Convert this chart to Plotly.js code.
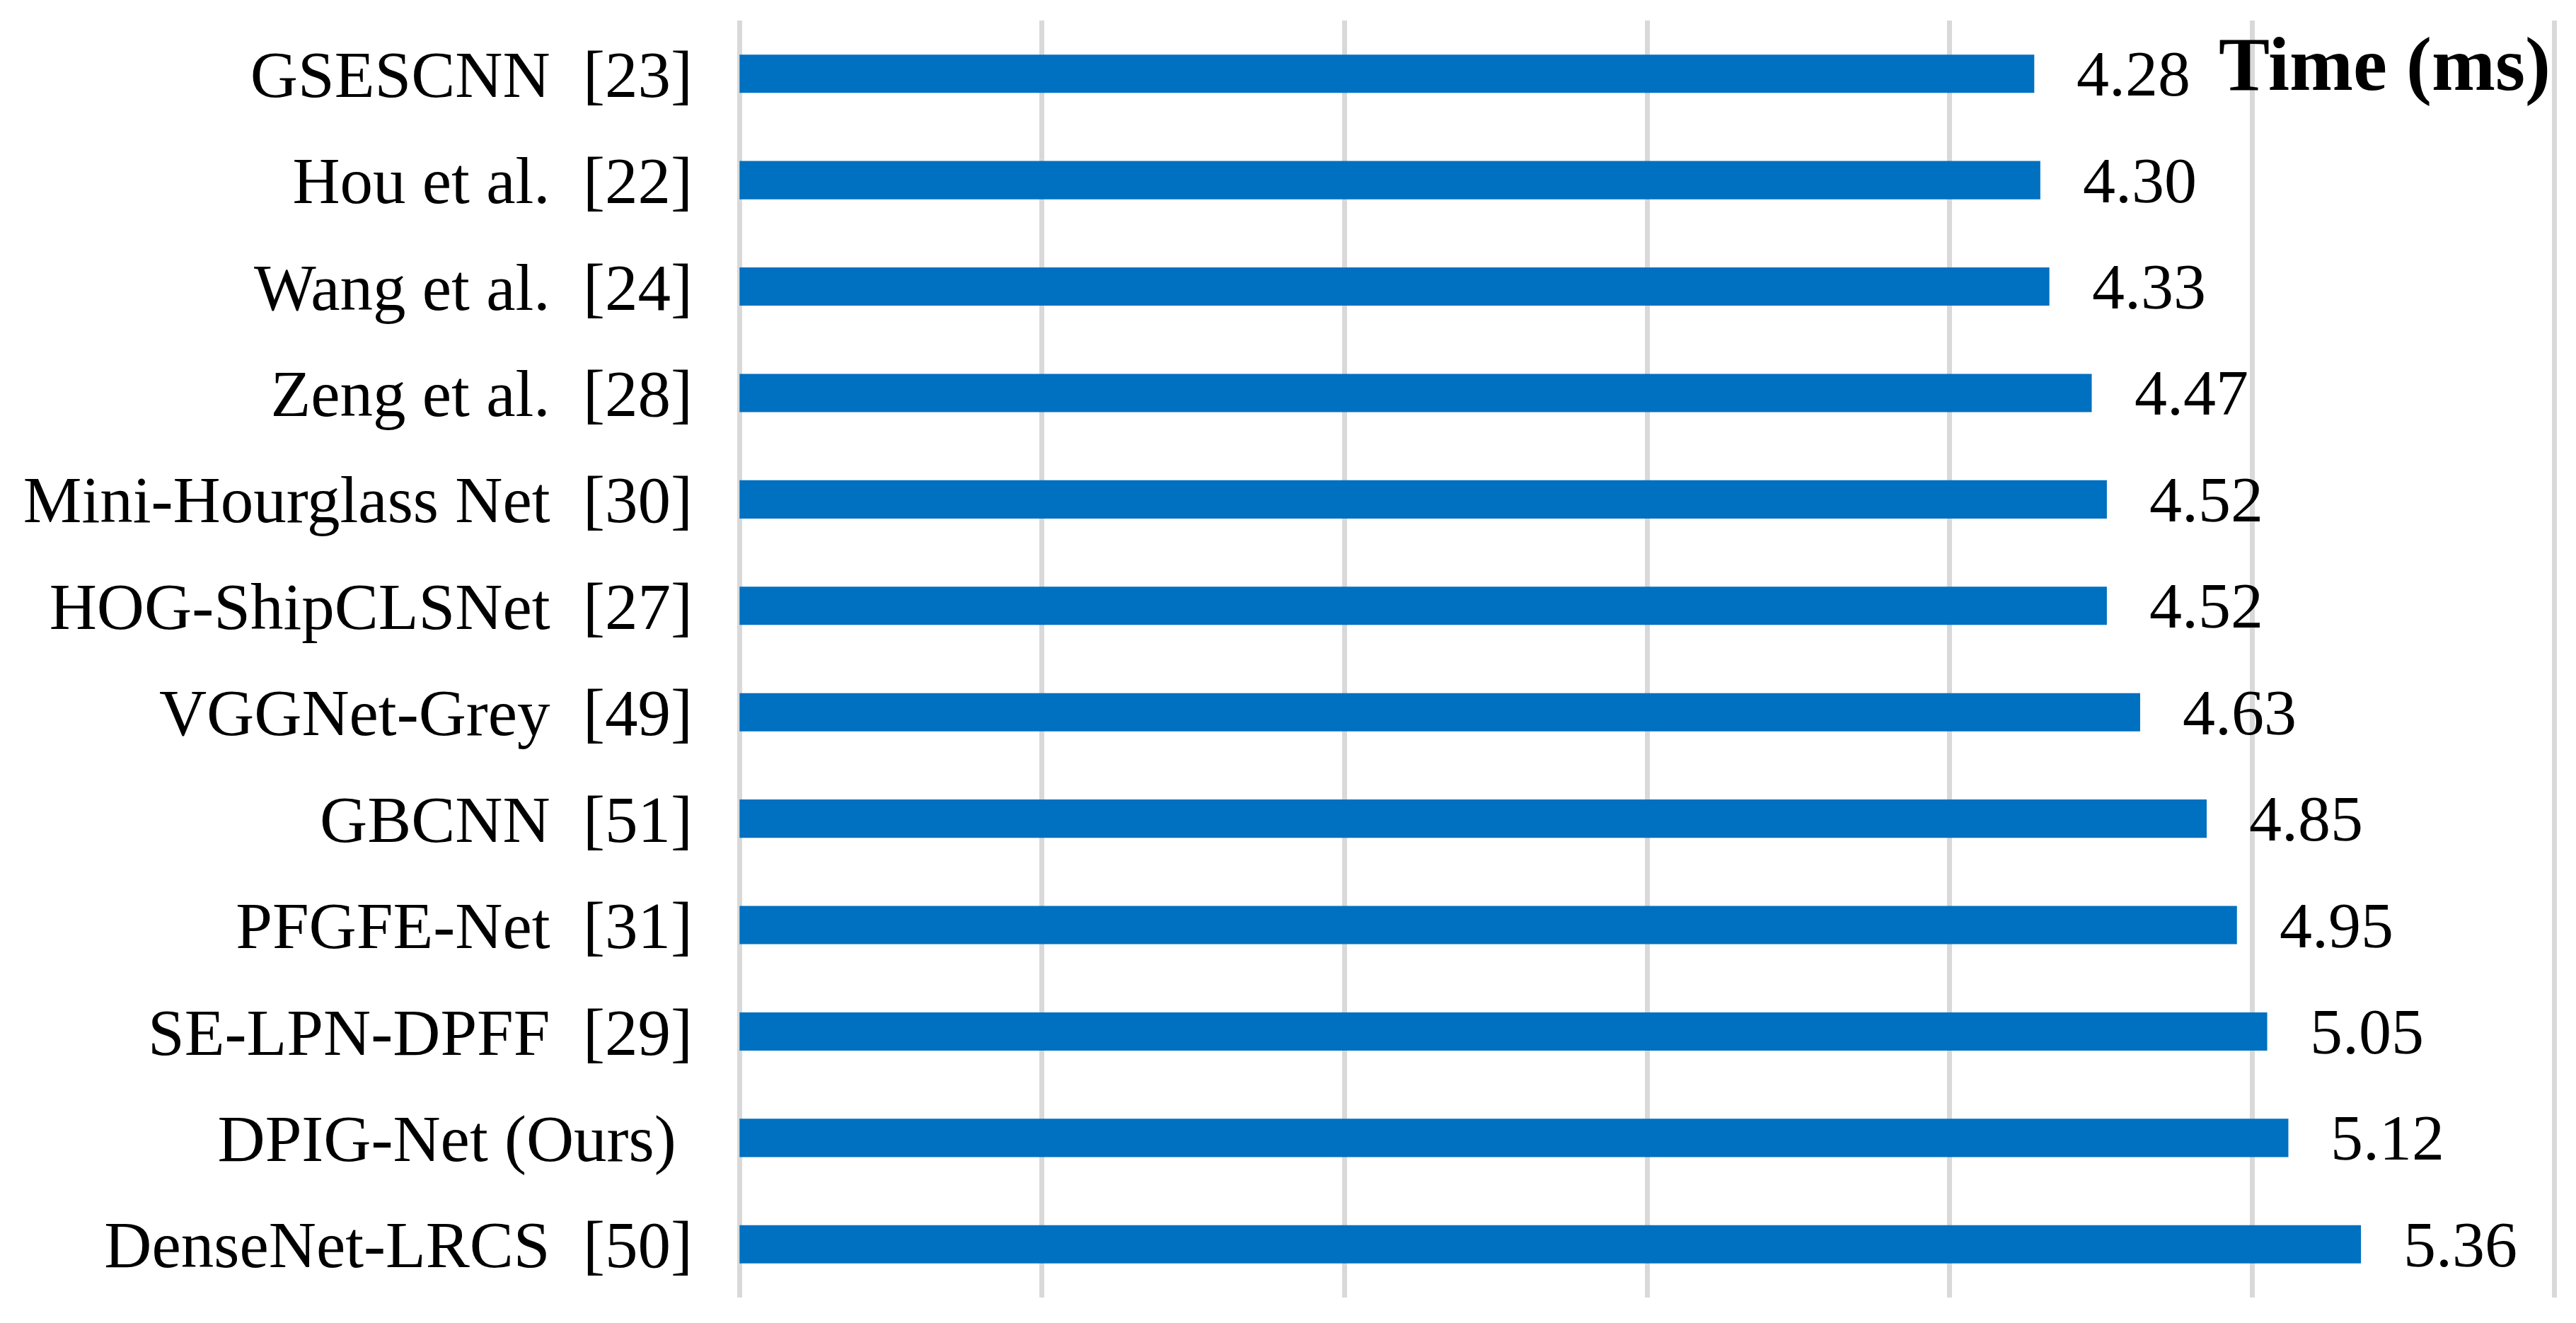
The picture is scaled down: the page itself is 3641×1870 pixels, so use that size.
<!DOCTYPE html>
<html>
<head>
<meta charset="utf-8">
<script src="https://cdn.plot.ly/plotly-3.0.1.min.js"></script>
<style>
  html, body { margin: 0; padding: 0; background: #ffffff; }
  #chart { width: 3641px; height: 1870px; }
</style>
</head>
<body>
<div id="chart"></div>
<script>
const methods = [
  "GSESCNN\u00a0\u00a0[23]",
  "Hou et al.\u00a0\u00a0[22]",
  "Wang et al.\u00a0\u00a0[24]",
  "Zeng et al.\u00a0\u00a0[28]",
  "Mini-Hourglass Net\u00a0\u00a0[30]",
  "HOG-ShipCLSNet\u00a0\u00a0[27]",
  "VGGNet-Grey\u00a0\u00a0[49]",
  "GBCNN\u00a0\u00a0[51]",
  "PFGFE-Net\u00a0\u00a0[31]",
  "SE-LPN-DPFF\u00a0\u00a0[29]",
  "DPIG-Net (Ours)\u00a0",
  "DenseNet-LRCS\u00a0\u00a0[50]"
];
const timeMs = [4.28, 4.30, 4.33, 4.47, 4.52, 4.52, 4.63, 4.85, 4.95, 5.05, 5.12, 5.36];
const unitLabel = "Time (ms)";

const FONT = "'Liberation Serif', 'Times New Roman', Times, serif";

const trace = {
  type: "bar",
  orientation: "h",
  x: timeMs,
  y: methods,
  marker: { color: "#0070C0", line: { width: 0 } },
  hoverinfo: "x+y"
};

const annotations = timeMs.map((v, i) => ({
  x: v,
  y: methods[i],
  xref: "x",
  yref: "y",
  text: v.toFixed(2),
  showarrow: false,
  xanchor: "left",
  yanchor: "middle",
  xshift: 58,
  font: { family: FONT, size: 92, color: "#000000" }
}));

annotations.push({
  xref: "paper",
  yref: "paper",
  x: 1,
  y: 0.9657,
  xanchor: "right",
  yanchor: "middle",
  xshift: -8,
  text: "<b>" + unitLabel + "</b>",
  showarrow: false,
  font: { family: FONT, size: 108, color: "#000000" }
});

const layout = {
  width: 3641,
  height: 1870,
  margin: { l: 1041, r: 26, t: 29, b: 36, pad: 0 },
  paper_bgcolor: "#ffffff",
  plot_bgcolor: "#ffffff",
  showlegend: false,
  bargap: 0.64,
  font: { family: FONT, color: "#000000" },
  xaxis: {
    range: [-0.01, 6.01],
    dtick: 1,
    tick0: 0,
    showgrid: true,
    gridcolor: "#d9d9d9",
    gridwidth: 7,
    zeroline: false,
    showline: false,
    showticklabels: false,
    ticks: "",
    fixedrange: true
  },
  yaxis: {
    type: "category",
    autorange: "reversed",
    showgrid: false,
    zeroline: false,
    showline: false,
    ticks: "",
    ticklabelstandoff: 61,
    tickfont: { family: FONT, size: 93, color: "#000000" },
    fixedrange: true
  },
  annotations: annotations
};

Plotly.newPlot("chart", [trace], layout, { displayModeBar: false, staticPlot: true });
</script>
</body>
</html>
